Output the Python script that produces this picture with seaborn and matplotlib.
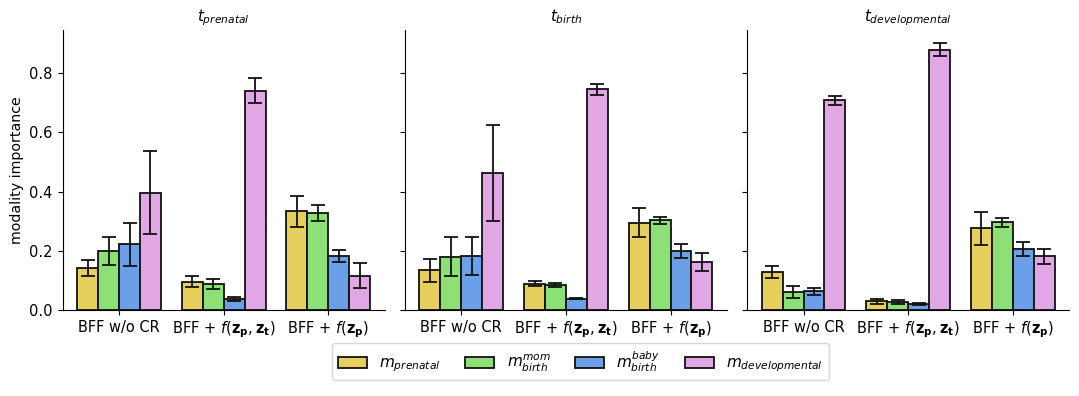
import matplotlib
matplotlib.use("Agg")
import matplotlib.pyplot as plt
import seaborn as sns
import numpy as np
import pandas as pd

# data
methods = ["BFF w/o CR", r"BFF + $f(\mathbf{z_p}, \mathbf{z_t})$", r"BFF + $f(\mathbf{z_p})$"]
modalities = [r"$m_{prenatal}$", r"$m_{birth}^{mom}$", r"$m_{birth}^{baby}$", r"$m_{developmental}$"]
panels = [r"$t_{prenatal}$", r"$t_{birth}$", r"$t_{developmental}$"]

# rows = method, cols = modality
prenatal_mean = [[0.143, 0.200, 0.222, 0.396],
                 [0.096, 0.087, 0.037, 0.741],
                 [0.333, 0.328, 0.182, 0.116]]
prenatal_err = [[0.027, 0.047, 0.073, 0.140],
                [0.019, 0.017, 0.006, 0.042],
                [0.053, 0.026, 0.020, 0.043]]

birth_mean = [[0.135, 0.180, 0.182, 0.461],
              [0.089, 0.084, 0.039, 0.745],
              [0.295, 0.303, 0.199, 0.162]]
birth_err = [[0.039, 0.065, 0.064, 0.162],
             [0.009, 0.006, 0.003, 0.018],
             [0.050, 0.011, 0.023, 0.029]]

dev_mean = [[0.129, 0.060, 0.063, 0.708],
            [0.030, 0.028, 0.021, 0.879],
            [0.276, 0.296, 0.207, 0.181]]
dev_err = [[0.020, 0.020, 0.013, 0.015],
           [0.008, 0.006, 0.004, 0.021],
           [0.055, 0.014, 0.024, 0.026]]

colors = ["#E6CF5C", "#8CE076", "#6B9FE8", "#E1A7E4"]

means = [prenatal_mean, birth_mean, dev_mean]
errs = [prenatal_err, birth_err, dev_err]

fig, axes = plt.subplots(1, 3, figsize=(10.79, 3.96), dpi=100, sharey=True)
fig.subplots_adjust(left=0.058, right=0.991, top=0.924, bottom=0.217, wspace=0.062)

for ax, title, m, e in zip(axes, panels, means, errs):
    rows = []
    for i, meth in enumerate(methods):
        for j, mod in enumerate(modalities):
            rows.append({"method": meth, "modality": mod, "value": m[i][j], "err": e[i][j]})
    df = pd.DataFrame(rows)
    sns.barplot(data=df, x="method", y="value", hue="modality", order=methods,
                hue_order=modalities, palette=colors, saturation=1, edgecolor="#111111",
                linewidth=1.3, errorbar=None, ax=ax, legend=(ax is axes[0]))
    bar_groups = list(ax.containers)
    for j, cont in enumerate(bar_groups):
        xs = [p.get_x() + p.get_width() / 2 for p in cont.patches]
        ys = [p.get_height() for p in cont.patches]
        es = [e[i][j] for i in range(len(methods))]
        ax.errorbar(xs, ys, yerr=es, fmt="none", ecolor="#111111",
                    elinewidth=1.3, capsize=5, capthick=1.3)
    ax.set_title(title, fontsize=11)
    ax.set_xlabel("")
    ax.set_ylabel("")
    ax.tick_params(labelsize=10.5)
    sns.despine(ax=ax)

axes[0].set_ylabel("modality importance", fontsize=10.2)
axes[0].set_ylim(0, 0.945)
axes[0].set_yticks([0.0, 0.2, 0.4, 0.6, 0.8])

handles, labels = axes[0].get_legend_handles_labels()
axes[0].get_legend().remove()
fig.legend(handles, labels, loc="lower center", ncol=4, bbox_to_anchor=(0.538, 0.02),
           fontsize=11, frameon=True, columnspacing=1.6, handlelength=1.9)

fig.savefig("out.png", dpi=100)
